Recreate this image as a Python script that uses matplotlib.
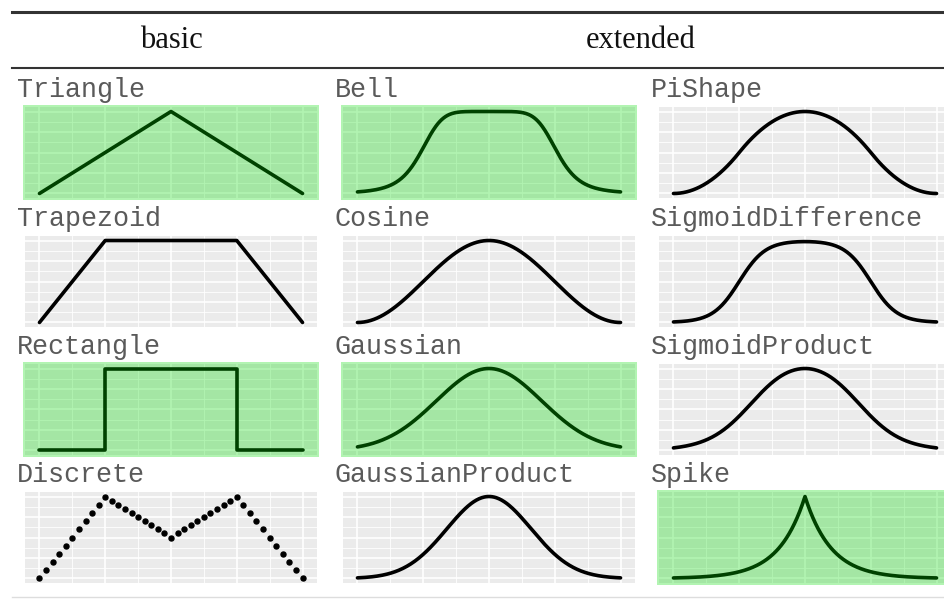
import numpy as np
import matplotlib
matplotlib.use("Agg")
import matplotlib.pyplot as plt
from matplotlib.lines import Line2D
from matplotlib.patches import Rectangle

# ---------------- data ----------------
headers = ["basic", "extended"]
titles = [["Triangle", "Bell", "PiShape"],
          ["Trapezoid", "Cosine", "SigmoidDifference"],
          ["Rectangle", "Gaussian", "SigmoidProduct"],
          ["Discrete", "GaussianProduct", "Spike"]]
highlighted = ["Triangle", "Rectangle", "Bell", "Gaussian", "Spike"]

triangle_x = [0.0, 0.5, 1.0]
triangle_y = [0.0, 1.0, 0.0]
trapezoid_x = [0.0, 0.25, 0.75, 1.0]
trapezoid_y = [0.0, 1.0, 1.0, 0.0]
rectangle_x = [0.0, 0.25, 0.25, 0.75, 0.75, 1.0]
rectangle_y = [0.0, 0.0, 1.0, 1.0, 0.0, 0.0]
discrete_x = [0.0, 0.025, 0.05, 0.075, 0.1, 0.125, 0.15, 0.175, 0.2, 0.225, 0.25,
              0.275, 0.3, 0.325, 0.35, 0.375, 0.4, 0.425, 0.45, 0.475, 0.5,
              0.525, 0.55, 0.575, 0.6, 0.625, 0.65, 0.675, 0.7, 0.725, 0.75,
              0.775, 0.8, 0.825, 0.85, 0.875, 0.9, 0.925, 0.95, 0.975, 1.0]
discrete_y = [0.0, 0.1, 0.2, 0.3, 0.4, 0.5, 0.6, 0.7, 0.8, 0.9, 1.0,
              0.95, 0.9, 0.85, 0.8, 0.75, 0.7, 0.65, 0.6, 0.55, 0.5,
              0.55, 0.6, 0.65, 0.7, 0.75, 0.8, 0.85, 0.9, 0.95, 1.0,
              0.9, 0.8, 0.7, 0.6, 0.5, 0.4, 0.3, 0.2, 0.1, 0.0]

# membership-function parameters
bell_params = [0.5, 0.26, 3.0]                 # center, width, slope
cosine_params = [0.5, 1.0]                      # center, width
gaussian_params = [0.5, 0.2]                    # mean, sd
gaussian_product_params = [0.5, 0.16, 0.5, 0.16]
pishape_params = [0.0, 0.5, 0.5, 1.0]           # bottomLeft, topLeft, topRight, bottomRight
sigmoid_difference_params = [0.25, 20.0, 20.0, 0.75]
sigmoid_product_params = [0.3, 12.0, -12.0, 0.7]
spike_params = [0.5, 1.0]                       # center, width

xs = np.linspace(0, 1, 401)


def bell(x, c, w, s):
    return 1.0 / (1.0 + np.abs((x - c) / w) ** (2 * s))


def cosine(x, c, w):
    y = 0.5 * (1 + np.cos(2.0 / w * np.pi * (x - c)))
    return np.where(np.abs(x - c) <= w / 2, y, 0.0)


def gaussian(x, m, s):
    return np.exp(-(x - m) ** 2 / (2 * s ** 2))


def gaussian_product(x, ma, sa, mb, sb):
    a = np.where(x < ma, gaussian(x, ma, sa), 1.0)
    b = np.where(x > mb, gaussian(x, mb, sb), 1.0)
    return a * b


def sshape(x, a, b):
    m = (a + b) / 2
    return np.where(x <= a, 0.0,
           np.where(x <= m, 2 * ((x - a) / (b - a)) ** 2,
           np.where(x <= b, 1 - 2 * ((x - b) / (b - a)) ** 2, 1.0)))


def pishape(x, a, b, c, d):
    return sshape(x, a, b) * (1 - sshape(x, c, d))


def sigmoid_difference(x, l, r, f, rt):
    return np.abs(1 / (1 + np.exp(-r * (x - l))) - 1 / (1 + np.exp(-f * (x - rt))))


def sigmoid_product(x, l, r, f, rt):
    y = (1 / (1 + np.exp(-r * (x - l)))) * (1 / (1 + np.exp(-f * (x - rt))))
    return y / y.max()


def spike(x, c, w):
    return np.exp(-np.abs(10.0 / w * (x - c)))


curves = {
    "Triangle": (triangle_x, triangle_y),
    "Trapezoid": (trapezoid_x, trapezoid_y),
    "Rectangle": (rectangle_x, rectangle_y),
    "Discrete": (discrete_x, discrete_y),
    "Bell": (xs, bell(xs, *bell_params)),
    "Cosine": (xs, cosine(xs, *cosine_params)),
    "Gaussian": (xs, gaussian(xs, *gaussian_params)),
    "GaussianProduct": (xs, gaussian_product(xs, *gaussian_product_params)),
    "PiShape": (xs, pishape(xs, *pishape_params)),
    "SigmoidDifference": (xs, sigmoid_difference(xs, *sigmoid_difference_params)),
    "SigmoidProduct": (xs, sigmoid_product(xs, *sigmoid_product_params)),
    "Spike": (xs, spike(xs, *spike_params)),
}

# ---------------- layout ----------------
W, H = 944, 599
fig = plt.figure(figsize=(W / 100, H / 100), dpi=100)
fig.patch.set_facecolor("white")

col_left = [25, 343, 659]
panel_w = 292
row_top = [107, 236, 364, 492]
panel_h = 91

for r in range(4):
    for c in range(3):
        name = titles[r][c]
        left, top = col_left[c], row_top[r]
        ax = fig.add_axes([left / W, 1 - (top + panel_h) / H, panel_w / W, panel_h / H])
        ax.set_facecolor("#EBEBEB")
        ax.set_xlim(-0.055, 1.055)
        ax.set_ylim(-0.055, 1.055)
        ax.set_xticks([0, 0.25, 0.5, 0.75, 1])
        ax.set_yticks([0, 0.25, 0.5, 0.75, 1])
        ax.set_xticks([0.125, 0.375, 0.625, 0.875], minor=True)
        ax.set_yticks([0.125, 0.375, 0.625, 0.875], minor=True)
        ax.tick_params(which="both", length=0, labelbottom=False, labelleft=False)
        ax.grid(which="major", color="white", lw=1.2)
        ax.grid(which="minor", color="white", lw=0.6)
        ax.set_axisbelow(True)
        for s in ax.spines.values():
            s.set_visible(False)

        x, y = curves[name]
        if name == "Discrete":
            ax.plot(x, y, "o", color="black", ms=3.6, zorder=3, clip_on=False)
        else:
            ax.plot(x, y, color="black", lw=2.6, zorder=3, solid_joinstyle="round",
                    solid_capstyle="round", clip_on=False)

        if name in highlighted:
            ax.add_patch(Rectangle((-0.008, -0.025), 1.016, 1.05, transform=ax.transAxes,
                                   facecolor=(0.0, 0.86, 0.0), alpha=0.3, lw=0,
                                   zorder=5, clip_on=False))

        fig.text((left - 8) / W, 1 - (top - 10) / H, name, family="Liberation Mono",
                 fontsize=19.3, color="#5a5a5a", ha="left", va="baseline")

# headers
fig.text(171 / W, 1 - 41 / H, headers[0], family="Liberation Serif", fontsize=22,
         ha="center", va="center", color="#111111")
fig.text(641 / W, 1 - 41 / H, headers[1], family="Liberation Serif", fontsize=22,
         ha="center", va="center", color="#111111")

# rules
fig.add_artist(Line2D([12 / W, 1], [1 - 12 / H] * 2, lw=2.2, color="#333333"))
fig.add_artist(Line2D([12 / W, 1], [1 - 68 / H] * 2, lw=1.5, color="#333333"))
fig.add_artist(Line2D([12 / W, 1], [1 - 597 / H] * 2, lw=1.0, color="#dddddd"))

fig.savefig("out.png", dpi=100)
